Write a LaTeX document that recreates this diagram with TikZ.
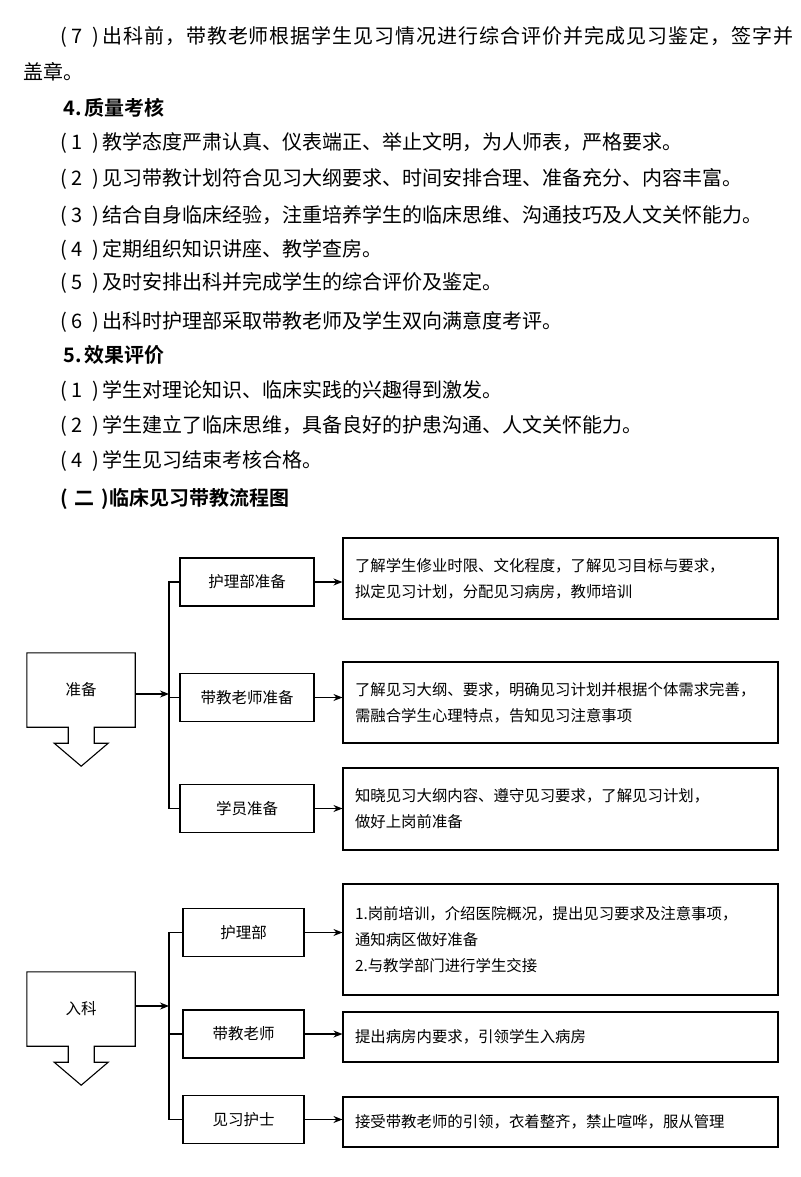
\documentclass[tikz,border=0pt]{standalone}
\usepackage{fontspec}
\setmainfont{Noto Sans CJK SC}[BoldFont={Noto Sans CJK SC Bold}]
\usetikzlibrary{arrows.meta,calc}
\tikzset{
  line/.style={draw=black, line width=1.1pt},
  arr/.style={line, -{Stealth[length=9pt,width=7pt]}},
  body/.style={anchor=west, inner sep=0pt, font=\fontsize{20}{24}\selectfont},
  head/.style={body, font=\fontsize{20}{24}\selectfont\bfseries},
  smallbox/.style={line, minimum width=134pt, minimum height=48pt, inner sep=0pt, font=\fontsize{15.5}{18}\selectfont},
  bigbox/.style={line, text width=411pt, inner xsep=12pt, inner ysep=0pt, align=left, font=\fontsize{15.4}{26}\selectfont},
  stagebox/.style={minimum width=108pt, minimum height=74pt, inner sep=0pt, font=\fontsize{15.5}{18}\selectfont}
}
\newcommand\itemno[1]{\makebox[42pt][l]{(\hspace{5pt}#1\hspace{9pt})}}
% spread a justified line
\def\spreadchars#1{\spreadnext#1\relax}
\def\spreadnext#1{\ifx#1\relax\else#1\hfil\expandafter\spreadnext\fi}
% box with a down arrow under it
\newcommand\downbox[1]{%
  \draw[line] (#1.south west) -- (#1.north west) -- (#1.north east) -- (#1.south east)
    -- ++(-41,0) -- ++(0,16) -- ++(14,0) -- ++(-27,23) -- ++(-27,-23) -- ++(14,0) -- ++(0,-16) -- cycle;}

\begin{document}
\begin{tikzpicture}[x=1pt, y=-1pt]
  \fill[white] (0,0) rectangle (800,1177);
  \useasboundingbox (0,0) rectangle (800,1177);

  % text
  \node[body] (p7) at (60,37) {\itemno{7}\makebox[691pt][s]{\spreadchars{出科前，带教老师根据学生见习情况进行综合评价并完成见习鉴定，签字并}\unskip}};
  \node[body] (p7b) at (23,72) {盖章。};
  \node[head] (h4) at (63,108) {4.\,质量考核};
  \node[body] (q1) at (60,143) {\itemno{1}教学态度严肃认真、仪表端正、举止文明，为人师表，严格要求。};
  \node[body] (q2) at (60,179) {\itemno{2}见习带教计划符合见习大纲要求、时间安排合理、准备充分、内容丰富。};
  \node[body] (q3) at (60,216) {\itemno{3}结合自身临床经验，注重培养学生的临床思维、沟通技巧及人文关怀能力。};
  \node[body] (q4) at (60,250) {\itemno{4}定期组织知识讲座、教学查房。};
  \node[body] (q5) at (60,283) {\itemno{5}及时安排出科并完成学生的综合评价及鉴定。};
  \node[body] (q6) at (60,322) {\itemno{6}出科时护理部采取带教老师及学生双向满意度考评。};
  \node[head] (h5) at (63,355) {5.\,效果评价};
  \node[body] (e1) at (60,391) {\itemno{1}学生对理论知识、临床实践的兴趣得到激发。};
  \node[body] (e2) at (60,426) {\itemno{2}学生建立了临床思维，具备良好的护患沟通、人文关怀能力。};
  \node[body] (e4) at (60,461) {\itemno{4}学生见习结束考核合格。};
  \node[head] (h2) at (60,499) {\makebox[49pt]{(\hfill 二\hfill)}临床见习带教流程图};

  % preparation
  \node[stagebox] (zb) at (81,690) {准备};
  \downbox{zb}
  \node[smallbox] (hlb) at (247,582) {护理部准备};
  \node[smallbox] (dlb) at (247,697.5) {带教老师准备};
  \node[smallbox] (xyb) at (247,808.5) {学员准备};
  \node[bigbox, minimum height=81pt] (b1) at (560.5,578.5) {了解学生修业时限、文化程度，了解见习目标与要求，\\拟定见习计划，分配见习病房，教师培训};
  \node[bigbox, minimum height=81pt] (b2) at (560.5,702.5) {了解见习大纲、要求，明确见习计划并根据个体需求完善，\\需融合学生心理特点，告知见习注意事项};
  \node[bigbox, minimum height=82pt] (b3) at (560.5,809) {知晓见习大纲内容、遵守见习要求，了解见习计划，\\做好上岗前准备};

  \coordinate (zbj) at (169,694);
  \draw[arr] (zb.east |- zbj) -- (zbj);
  \draw[line] (hlb.west) -- (hlb.west -| zbj) -- (xyb.west -| zbj) -- (xyb.west);
  \draw[line] (dlb.west) -- (dlb.west -| zbj);
  \draw[arr] (hlb.east) -- (hlb.east -| b1.west);
  \draw[arr] (dlb.east) -- (dlb.east -| b2.west);
  \draw[arr] (xyb.east) -- (xyb.east -| b3.west);

  % entering the ward
  \node[stagebox] (rk) at (81,1009) {入科};
  \downbox{rk}
  \node[smallbox, minimum width=121pt] (hl) at (243.5,932.5) {护理部};
  \node[smallbox, minimum width=121pt] (dl) at (243.5,1034) {带教老师};
  \node[smallbox, minimum width=121pt] (jx) at (243.5,1119.5) {见习护士};
  \node[bigbox, minimum height=111pt] (c1) at (560.5,939.5) {1.岗前培训，介绍医院概况，提出见习要求及注意事项，\\通知病区做好准备\\2.与教学部门进行学生交接};
  \node[bigbox, minimum height=50pt] (c2) at (560.5,1037) {提出病房内要求，引领学生入病房};
  \node[bigbox, minimum height=50pt] (c3) at (560.5,1122) {接受带教老师的引领，衣着整齐，禁止喧哗，服从管理};

  \coordinate (rkj) at (169,1006);
  \draw[arr] (rk.east |- rkj) -- (rkj);
  \draw[line] (hl.west) -- (hl.west -| rkj) -- (jx.west -| rkj) -- (jx.west);
  \draw[line] (dl.west) -- (dl.west -| rkj);
  \draw[arr] (hl.east) -- (hl.east -| c1.west);
  \draw[arr] (dl.east) -- (dl.east -| c2.west);
  \draw[arr] (jx.east) -- (jx.east -| c3.west);
\end{tikzpicture}
\end{document}
